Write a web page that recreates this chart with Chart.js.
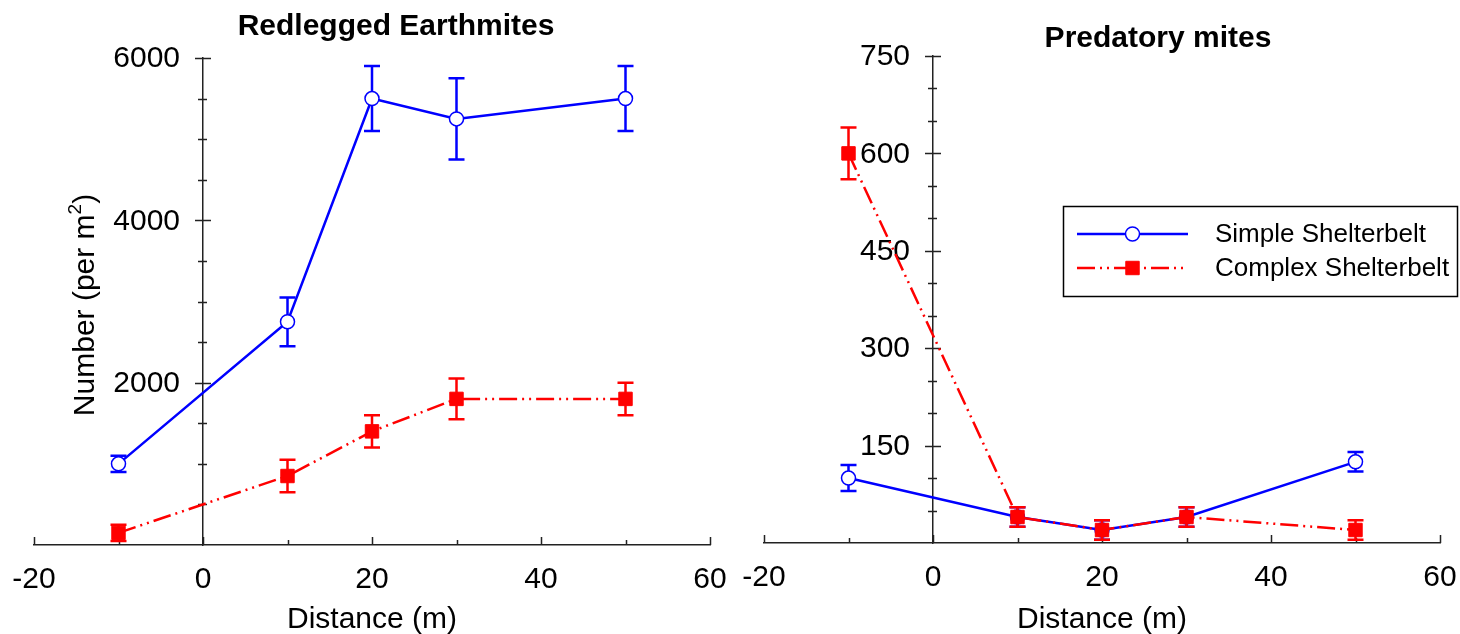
<!DOCTYPE html>
<html>
<head>
<meta charset="utf-8">
<script src="https://cdn.jsdelivr.net/npm/chart.js@4.4.0/dist/chart.umd.min.js"></script>
<style>
  html, body { margin: 0; padding: 0; background: #fff; }
  #wrap { display: flex; width: 1460px; height: 634px; }
  canvas { display: block; }
</style>
</head>
<body>
<div id="wrap">
  <canvas id="earth" width="730" height="634"></canvas>
  <canvas id="pred" width="730" height="634"></canvas>
</div>
<script>
// distances (m) and tick labels
const distances = [-10, 10, 20, 30, 50];
const xTickLabels = [-20, 0, 20, 40, 60];

// Redlegged Earthmites (per m2)
const earthSimple = [1000, 2750, 5500, 5250, 5500];
const earthSimpleErr = [100, 300, 400, 500, 400];
const earthComplex = [150, 850, 1400, 1800, 1800];
const earthComplexErr = [100, 200, 200, 250, 200];
const earthYTicks = [2000, 4000, 6000];

// Predatory mites (per m2)
const predSimple = [100, 40, 20, 40, 125];
const predSimpleErr = [20, 15, 15, 15, 15];
const predComplex = [600, 40, 20, 40, 20];
const predComplexErr = [40, 15, 15, 15, 15];
const predYTicks = [150, 300, 450, 600, 750];

const seriesNames = ["Simple Shelterbelt", "Complex Shelterbelt"];

const FONT = '"Liberation Sans", Arial, Helvetica, sans-serif';
Chart.defaults.font.family = FONT;
Chart.defaults.font.size = 30;
Chart.defaults.color = "#000";

const BLUE = "#0000ff";
const RED = "#ff0000";
const DASH = [18, 5, 2, 5, 2, 5];

function pts(vals) {
  return distances.map((d, i) => ({ x: d, y: vals[i] }));
}

// error bars, drawn under each dataset's line and markers
const errorBars = {
  id: "errorBars",
  beforeDatasetDraw(chart, args) {
    const ds = chart.data.datasets[args.index];
    if (!ds.errors) return;
    const { ctx, scales: { x, y } } = chart;
    ctx.save();
    ctx.strokeStyle = ds.borderColor;
    ctx.lineWidth = 2.5;
    ctx.setLineDash([]);
    ctx.beginPath();
    ds.data.forEach((p, i) => {
      const px = x.getPixelForValue(p.x);
      const top = y.getPixelForValue(p.y + ds.errors[i]);
      const bot = y.getPixelForValue(p.y - ds.errors[i]);
      ctx.moveTo(px, top); ctx.lineTo(px, bot);
      ctx.moveTo(px - 8, top); ctx.lineTo(px + 8, top);
      ctx.moveTo(px - 8, bot); ctx.lineTo(px + 8, bot);
    });
    ctx.stroke();
    ctx.restore();
  }
};

// crossing ticks + labels on the y axis (sits at x = 0), inward ticks on the x axis
const axisTicks = {
  id: "axisTicks",
  beforeDatasetsDraw(chart, args, opts) {
    const { ctx, scales: { x, y } } = chart;
    const x0 = x.getPixelForValue(0);
    const y0 = y.getPixelForValue(0);
    ctx.save();
    ctx.strokeStyle = "#222";
    ctx.lineWidth = 1.5;
    ctx.beginPath();
    x.ticks.forEach(t => {
      const px = Math.round(x.getPixelForValue(t.value)) + 0.5;
      const len = xTickLabels.includes(t.value) ? 8 : 5;
      ctx.moveTo(px, y0); ctx.lineTo(px, y0 - len);
    });
    y.ticks.forEach(t => {
      if (t.value === 0) return;
      const py = Math.round(y.getPixelForValue(t.value)) + 0.5;
      const major = opts.yMajor.includes(t.value);
      ctx.moveTo(x0 - (major ? 8 : 5), py);
      ctx.lineTo(x0 + (major ? 8 : 4), py);
    });
    ctx.stroke();

    ctx.fillStyle = "#000";
    ctx.font = "30px " + FONT;
    ctx.textAlign = "right";
    ctx.textBaseline = "middle";
    y.ticks.forEach(t => {
      if (!opts.yMajor.includes(t.value)) return;
      ctx.fillText(String(t.value), x0 - 23, y.getPixelForValue(t.value) + 1);
    });
    ctx.restore();
  }
};

// panel title and (optional) rotated y title with superscript
const panelText = {
  id: "panelText",
  afterDraw(chart, args, opts) {
    const ctx = chart.ctx;
    ctx.save();
    ctx.fillStyle = "#000";
    ctx.font = "bold 30px " + FONT;
    ctx.textAlign = "center";
    ctx.textBaseline = "alphabetic";
    ctx.fillText(opts.title, opts.titleX, opts.titleY);
    if (opts.yTitle) {
      ctx.translate(opts.yTitleX, opts.yTitleY);
      ctx.rotate(-Math.PI / 2);
      ctx.textAlign = "left";
      const big = "30px " + FONT, small = "19px " + FONT;
      ctx.font = big;
      const w1 = ctx.measureText(opts.yTitle[0]).width;
      const w3 = ctx.measureText(opts.yTitle[2]).width;
      ctx.font = small;
      const w2 = ctx.measureText(opts.yTitle[1]).width;
      let sx = -(w1 + w2 + w3) / 2;
      ctx.font = big;
      ctx.fillText(opts.yTitle[0], sx, 11);
      sx += w1;
      ctx.font = small;
      ctx.fillText(opts.yTitle[1], sx, -2);
      sx += w2;
      ctx.font = big;
      ctx.fillText(opts.yTitle[2], sx, 11);
    }
    ctx.restore();
  }
};

// boxed legend with line sample and marker
const boxLegend = {
  id: "boxLegend",
  afterDraw(chart, args, opts) {
    if (!opts.show) return;
    const ctx = chart.ctx;
    ctx.save();
    ctx.strokeStyle = "#000";
    ctx.lineWidth = 1.5;
    ctx.strokeRect(opts.x + 0.5, opts.y + 0.5, opts.w, opts.h);
    chart.data.datasets.forEach((ds, i) => {
      const cy = opts.y + 28 + i * 34;
      const lx1 = opts.x + 14, lx2 = opts.x + 125;
      ctx.strokeStyle = ds.borderColor;
      ctx.lineWidth = ds.borderWidth;
      ctx.setLineDash(ds.borderDash || []);
      ctx.beginPath();
      ctx.moveTo(lx1, cy); ctx.lineTo(lx2, cy);
      ctx.stroke();
      ctx.setLineDash([]);
      ctx.fillStyle = ds.pointBackgroundColor;
      ctx.strokeStyle = ds.pointBorderColor;
      ctx.lineWidth = ds.pointBorderWidth;
      Chart.helpers.drawPoint(ctx, {
        pointStyle: ds.pointStyle, radius: ds.pointRadius,
        borderWidth: ds.pointBorderWidth, rotation: 0
      }, (lx1 + lx2) / 2, cy);
      ctx.fillStyle = "#000";
      ctx.font = "26px " + FONT;
      ctx.textAlign = "left";
      ctx.textBaseline = "middle";
      ctx.fillText(ds.label, opts.x + 152, cy + 1);
    });
    ctx.restore();
  }
};

function makeChart(id, simple, simpleErr, complex, complexErr, yMax, yStep, yTicks, text, layout, legend) {
  return new Chart(document.getElementById(id), {
    type: "line",
    data: {
      datasets: [
        {
          label: seriesNames[0],
          data: pts(simple),
          errors: simpleErr,
          borderColor: BLUE,
          borderWidth: 2.5,
          pointStyle: "circle",
          pointRadius: 7,
          pointBorderWidth: 1.5,
          pointBackgroundColor: "#fff",
          pointBorderColor: BLUE,
          order: 1
        },
        {
          label: seriesNames[1],
          data: pts(complex),
          errors: complexErr,
          borderColor: RED,
          borderWidth: 2.5,
          borderDash: DASH,
          pointStyle: "rect",
          pointRadius: 9.5,
          pointBorderWidth: 1,
          pointBackgroundColor: RED,
          pointBorderColor: RED,
          order: 0
        }
      ]
    },
    options: {
      responsive: false,
      animation: false,
      devicePixelRatio: 1,
      layout: { padding: { left: 34, right: 20, top: layout.top, bottom: 0 } },
      plugins: {
        legend: { display: false },
        tooltip: { enabled: false },
        axisTicks: { yMajor: yTicks },
        panelText: text,
        boxLegend: legend
      },
      scales: {
        x: {
          type: "linear",
          min: -20,
          max: 60,
          afterFit(s) { s.height = layout.xHeight; },
          ticks: {
            stepSize: 10,
            autoSkip: false,
            maxRotation: 0,
            padding: 0,
            callback: v => (xTickLabels.includes(v) ? String(v) : "")
          },
          grid: { display: false, drawTicks: true, tickLength: 17 },
          border: { display: true, color: "#222", width: 1.5 },
          title: { display: true, text: "Distance (m)", padding: { top: 0, bottom: -4 }, font: { size: 30 } }
        },
        y: {
          type: "linear",
          position: { x: 0 },
          min: 0,
          max: yMax,
          ticks: { stepSize: yStep, autoSkip: false, display: false },
          grid: { display: false, drawTicks: false },
          border: { display: true, color: "#222", width: 1.5 }
        }
      }
    },
    plugins: [errorBars, axisTicks, panelText, boxLegend]
  });
}

makeChart("earth", earthSimple, earthSimpleErr, earthComplex, earthComplexErr,
  6000, 500, earthYTicks,
  { title: "Redlegged Earthmites", titleX: 396, titleY: 35,
    yTitle: ["Number (per m", "2", ")"], yTitleX: 83, yTitleY: 305 },
  { top: 58, xHeight: 89 },
  { show: false });

makeChart("pred", predSimple, predSimpleErr, predComplex, predComplexErr,
  750, 50, predYTicks,
  { title: "Predatory mites", titleX: 428, titleY: 47 },
  { top: 56, xHeight: 91 },
  { show: true, x: 333, y: 206, w: 394, h: 90 });
</script>
</body>
</html>
